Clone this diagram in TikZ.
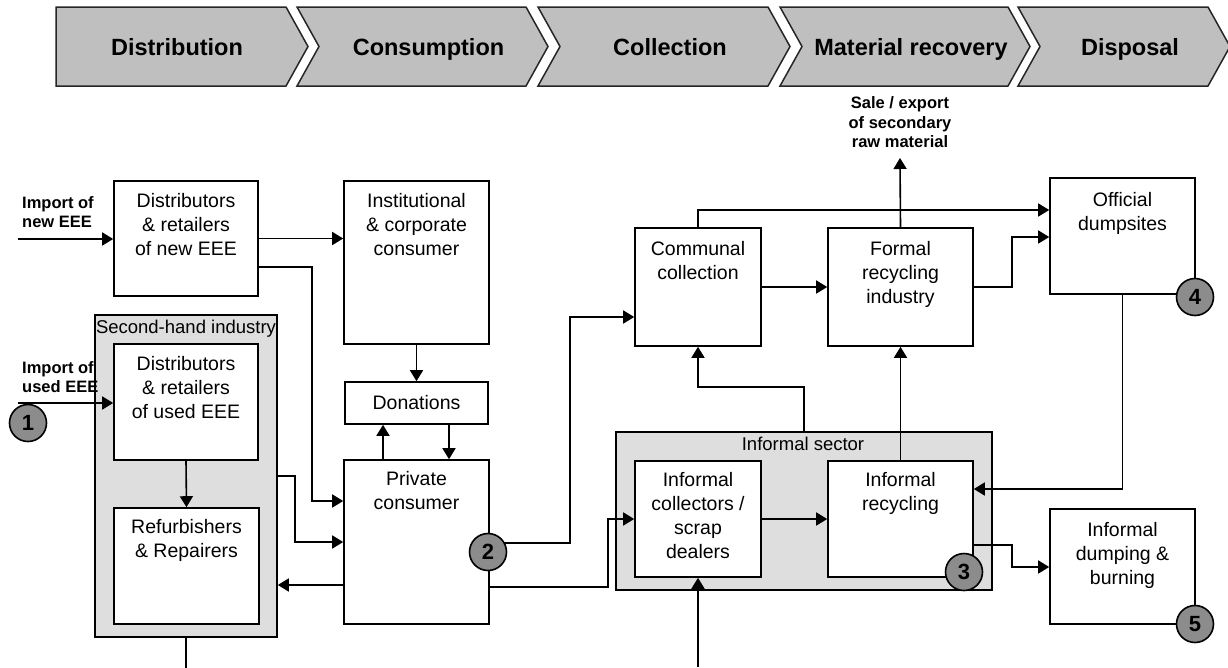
\documentclass[tikz,border=0pt]{standalone}
\usepackage{fontspec}
\setmainfont{Liberation Sans}
\usepackage{tikz}
\usetikzlibrary{arrows.meta, positioning, calc}

\tikzset{
  stage/.style={draw=black!85, line width=1.5pt, fill=black!25},
  stagetext/.style={font=\fontsize{23.5}{28}\selectfont\bfseries, anchor=base, inner sep=0pt},
  box/.style={draw, line width=1.6pt, fill=white, inner sep=0pt},
  group/.style={draw, line width=1.6pt, fill=black!13, inner sep=0pt},
  boxtext/.style={font=\fontsize{19.5}{24}\selectfont, align=center, anchor=north, inner sep=0pt},
  grouptext/.style={font=\fontsize{18.5}{22}\selectfont, inner sep=0pt},
  flowtext/.style={font=\fontsize{16.5}{19.5}\selectfont\bfseries, inner sep=0pt},
  num/.style={circle, draw, line width=1.6pt, fill=black!45, minimum size=37pt, inner sep=0pt, font=\fontsize{22}{22}\selectfont\bfseries},
  flow/.style={line width=1.6pt, -{Triangle[length=11pt,width=13pt]}},
  plain/.style={line width=1.6pt},
}

\begin{document}
\begin{tikzpicture}[x=1pt, y=-1pt]
\useasboundingbox (0,0) rectangle (1228,667);

% Life cycle stages
\foreach \l/\r/\n/\t/\nm in {56/286/0/Distribution/st1, 297/526/22/Consumption/st2,
    538/768/22/Collection/st3, 780/1008/22/Material recovery/st4, 1018/1208/22/Disposal/st5} {
  \draw[stage] (\l,7) -- (\r,7) -- (\r+22,46.5) -- (\r,86) -- (\l,86) -- (\l+\n,46.5) -- cycle;
  \node[stagetext] (\nm) at ({(\l+\r)/2+\n/2+6},55.5) {\t};
}

% Grey groups
\node[group, minimum width=182, minimum height=322] (shi) at (186,476) {};
\node[grouptext] (shit) at (186,329) {Second-hand industry};
\node[group, minimum width=376, minimum height=158] (isec) at (804,511) {};
\node[grouptext] (isect) at (803,444) {Informal sector};

% Boxes
\node[box, minimum width=144, minimum height=115] (dnew) at (186,238.5) {};
\node[box, minimum width=145, minimum height=163] (inst) at (416.5,262.5) {};
\node[box, minimum width=144, minimum height=116] (dused) at (186,402) {};
\node[box, minimum width=145, minimum height=116] (refurb) at (186.5,566) {};
\node[box, minimum width=143, minimum height=42, font=\fontsize{19.5}{24}\selectfont] (don) at (416.5,403) {Donations};
\node[box, minimum width=145, minimum height=164] (priv) at (416.5,542) {};
\node[box, minimum width=126, minimum height=118] (comm) at (698,287) {};
\node[box, minimum width=145, minimum height=118] (formal) at (900.5,287) {};
\node[box, minimum width=126, minimum height=116] (coll) at (698,519) {};
\node[box, minimum width=145, minimum height=116] (irec) at (900.5,519) {};
\node[box, minimum width=145, minimum height=116] (off) at (1122.5,236) {};
\node[box, minimum width=145, minimum height=115] (idump) at (1122.5,566.5) {};

% Box texts
\node[boxtext] (dnewt) at ($(dnew.north)+(0,13)$) {Distributors\\\& retailers\\of new EEE};
\node[boxtext] (instt) at ($(inst.north)+(0,13)$) {Institutional\\\& corporate\\consumer};
\node[boxtext] (dusedt) at ($(dused.north)+(0,13)$) {Distributors\\\& retailers\\of used EEE};
\node[boxtext] (refurbt) at ($(refurb.north)+(0,12)$) {Refurbishers\\\& Repairers};
\node[boxtext] (privt) at ($(priv.north)+(0,12)$) {Private\\consumer};
\node[boxtext] (commt) at ($(comm.north)+(0,14)$) {Communal\\collection};
\node[boxtext] (formalt) at ($(formal.north)+(0,14)$) {Formal\\recycling\\industry};
\node[boxtext] (collt) at ($(coll.north)+(0,12)$) {Informal\\collectors /\\scrap\\dealers};
\node[boxtext] (irect) at ($(irec.north)+(0,12)$) {Informal\\recycling};
\node[boxtext] (offt) at ($(off.north)+(0,15)$) {Official\\dumpsites};
\node[boxtext] (idumpt) at ($(idump.north)+(0,14)$) {Informal\\dumping \&\\burning};

% Flow labels
\node[flowtext, align=left, anchor=north west] (newimp) at (22,196) {Import of\\new EEE};
\node[flowtext, align=left, anchor=north west] (usedimp) at (22,361) {Import of\\used EEE};
\node[flowtext, align=center, anchor=south, outer ysep=10pt] (sale) at (900,158) {Sale / export\\of secondary\\raw material};
\coordinate (innew) at (18,239);
\coordinate (inused) at (18,403);
\coordinate (bot1) at (698,667);

% Flows
\draw[flow] (innew) -- (innew -| dnew.west);
\draw[flow] (dnew.east) -- (dnew.east -| inst.west);
\draw[flow] ($(dnew.east)+(0,28.5)$) -- ++(53,0) |- ($(priv.west)+(0,-41)$);
\draw[flow] (inst.south) -- (don.north);
\draw[flow] ([xshift=-33.5pt]priv.north) -- ([xshift=-33.5pt]don.south);
\draw[flow] ([xshift=32.5pt]don.south) -- ([xshift=32.5pt]priv.north);
\draw[flow] (inused) -- (inused -| dused.west);
\draw[flow] (dused.south) -- (refurb.north);
\draw[flow] (shi.east) -- ++(17,0) |- (priv.west);
\draw[flow] ($(priv.west)+(0,43)$) -- ($(shi.east)+(0,109)$);
\draw[plain] (shi.south) -- ++(0,30);
\draw[flow] ($(priv.east)+(0,1)$) -- ++(80,0) |- ($(comm.west)+(0,30)$);
\draw[flow] ($(priv.east)+(0,45)$) -- ++(118,0) |- (coll.west);
\draw[flow] (coll.east) -- (irec.west);
\draw[flow] (comm.east) -- (formal.west);
\draw[flow] (comm.north) |- ($(off.west)+(0,-26)$);
\draw[flow] (formal.east) -- ++(38,0) |- ($(off.west)+(0,1)$);
\draw[flow] (formal.north) -- (sale.south);
\draw[flow] (isec.north) -- ++(0,-44) -| (comm.south);
\draw[flow] (irec.north) -- (formal.south);
\draw[flow] (off.south) |- ($(irec.east)+(0,-30)$);
\draw[flow] ($(irec.east)+(0,26)$) -- ++(38,0) |- ($(idump.west)+(0,0.5)$);
\draw[flow] (bot1) -- (coll.south);

% Numbered points
\node[num] (n1) at (28,423) {1};
\node[num] (n2) at (488,552) {2};
\node[num] (n3) at (964,572) {3};
\node[num] (n4) at (1195,297) {4};
\node[num] (n5) at (1195,624) {5};

\end{tikzpicture}
\end{document}
